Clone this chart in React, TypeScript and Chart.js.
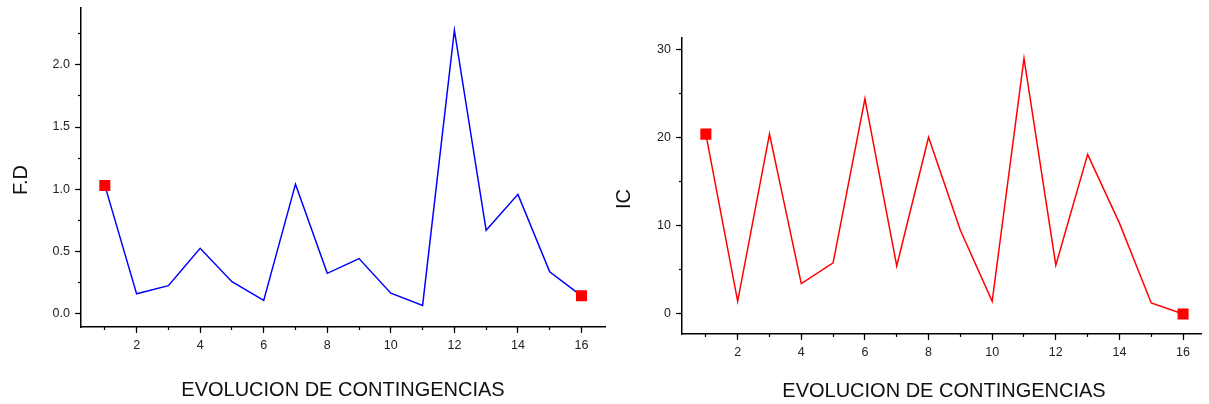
import React, { useEffect, useRef } from "react";
import { Chart, registerables } from "chart.js";

Chart.register(...registerables);

const contingencias = [1, 2, 3, 4, 5, 6, 7, 8, 9, 10, 11, 12, 13, 14, 15, 16];
const fdValues = [1.03, 0.157, 0.223, 0.524, 0.255, 0.104, 1.04, 0.322, 0.441, 0.162, 0.064, 2.28, 0.668, 0.958, 0.335, 0.141];
const icValues = [20.4, 1.44, 20.4, 3.45, 5.8, 24.4, 5.45, 20.05, 9.5, 1.44, 29.0, 5.53, 18.1, 10.3, 1.25, 0.0];
const xTitle = "EVOLUCION DE CONTINGENCIAS";
const fdTitle = "F.D";
const icTitle = "IC";

const FONT = "'Liberation Sans', Arial, sans-serif";

type Cfg = {
  values: number[];
  color: string;
  xMin: number;
  xMax: number;
  yMin: number;
  yMax: number;
  yStep: number;
  yMinorStep: number;
  yDecimals: number;
  yWidth: number;
  xHeight: number;
  padTop: number;
  padRight: number;
};

function buildChart(canvas: HTMLCanvasElement, c: Cfg) {
  const pts = contingencias.map((x, i) => ({ x, y: c.values[i] }));
  const last = pts.length - 1;
  const tickFont = { family: FONT, size: 12.5 };
  const noPad = (s: any) => {
    s.paddingTop = 0;
    s.paddingBottom = 0;
    s.paddingLeft = 0;
    s.paddingRight = 0;
  };
  return new Chart(canvas, {
    type: "line",
    data: {
      datasets: [
        {
          data: pts,
          borderColor: c.color,
          borderWidth: 1.5,
          tension: 0,
          pointStyle: "rect",
          pointRadius: (ctx: any) => (ctx.dataIndex === 0 || ctx.dataIndex === last ? 7.8 : 0),
          pointBackgroundColor: "#ff0000",
          pointBorderWidth: 0,
          xAxisID: "x",
          yAxisID: "y",
        },
      ],
    },
    options: {
      animation: false,
      responsive: false,
      maintainAspectRatio: false,
      events: [],
      layout: { padding: { top: c.padTop, right: c.padRight, left: 0, bottom: 0 } },
      plugins: { legend: { display: false }, tooltip: { enabled: false } },
      scales: {
        x: {
          type: "linear",
          position: "bottom",
          weight: 1,
          min: c.xMin,
          max: c.xMax,
          afterFit: (s: any) => {
            s.height = c.xHeight;
            noPad(s);
          },
          ticks: {
            stepSize: 2,
            includeBounds: false,
            color: "#222",
            font: tickFont,
            padding: 5,
            maxRotation: 0,
            autoSkip: false,
          },
          grid: { drawOnChartArea: false, drawTicks: true, tickLength: 6, tickColor: "#000", tickWidth: 1.2 },
          border: { display: true, color: "#000", width: 1.5 },
        },
        xMinor: {
          type: "linear",
          position: "bottom",
          weight: 0,
          min: c.xMin,
          max: c.xMax,
          afterFit: (s: any) => {
            s.height = 0;
            noPad(s);
          },
          ticks: { stepSize: 1, includeBounds: false, display: false, autoSkip: false },
          grid: { drawOnChartArea: false, drawTicks: true, tickLength: 3, tickColor: "#000", tickWidth: 1.2 },
          border: { display: false },
        },
        y: {
          type: "linear",
          position: "left",
          weight: 1,
          min: c.yMin,
          max: c.yMax,
          afterFit: (s: any) => {
            s.width = c.yWidth;
            noPad(s);
          },
          ticks: {
            stepSize: c.yStep,
            includeBounds: false,
            color: "#222",
            font: tickFont,
            padding: 5,
            callback: (v: any) => Number(v).toFixed(c.yDecimals),
          },
          grid: { drawOnChartArea: false, drawTicks: true, tickLength: 6, tickColor: "#000", tickWidth: 1.2 },
          border: { display: true, color: "#000", width: 1.5 },
        },
        yMinor: {
          type: "linear",
          position: "left",
          weight: 0,
          min: c.yMin,
          max: c.yMax,
          afterFit: (s: any) => {
            s.width = 0;
            noPad(s);
          },
          ticks: { stepSize: c.yMinorStep, includeBounds: false, display: false },
          grid: { drawOnChartArea: false, drawTicks: true, tickLength: 3, tickColor: "#000", tickWidth: 1.2 },
          border: { display: false },
        },
      },
    } as any,
  });
}

function ChartCanvas({ cfg, left, width }: { cfg: Cfg; left: number; width: number }) {
  const ref = useRef<HTMLCanvasElement | null>(null);
  useEffect(() => {
    if (!ref.current) return;
    const ch = buildChart(ref.current, cfg);
    return () => ch.destroy();
  }, []);
  return (
    <canvas
      ref={ref}
      width={width}
      height={404}
      style={{ position: "absolute", left, top: 0, width, height: 404 }}
    />
  );
}

const titleStyle: React.CSSProperties = {
  position: "absolute",
  fontFamily: FONT,
  fontSize: 20,
  lineHeight: 1,
  color: "#111",
  whiteSpace: "nowrap",
};

export default function App() {
  const leftCfg: Cfg = {
    values: fdValues,
    color: "#0000ff",
    xMin: 0.25,
    xMax: 16.74,
    yMin: -0.11,
    yMax: 2.46,
    yStep: 0.5,
    yMinorStep: 0.25,
    yDecimals: 1,
    yWidth: 81,
    xHeight: 77,
    padTop: 2,
    padRight: 10,
  };
  const rightCfg: Cfg = {
    values: icValues,
    color: "#ff0000",
    xMin: 0.25,
    xMax: 16.57,
    yMin: -2.27,
    yMax: 31.3,
    yStep: 10,
    yMinorStep: 5,
    yDecimals: 0,
    yWidth: 67,
    xHeight: 70,
    padTop: 38,
    padRight: 7,
  };
  return (
    <div style={{ position: "absolute", left: 0, top: 0, width: 1209, height: 404, background: "#fff", overflow: "hidden" }}>
      <ChartCanvas cfg={leftCfg} left={0} width={615} />
      <ChartCanvas cfg={rightCfg} left={615} width={594} />
      <div style={{ ...titleStyle, left: 20, top: 180, transform: "translate(-50%, -50%) rotate(-90deg)" }}>{fdTitle}</div>
      <div style={{ ...titleStyle, left: 623, top: 199, transform: "translate(-50%, -50%) rotate(-90deg)" }}>{icTitle}</div>
      <div style={{ ...titleStyle, left: 343, top: 389, transform: "translate(-50%, -50%)" }}>{xTitle}</div>
      <div style={{ ...titleStyle, left: 944, top: 390, transform: "translate(-50%, -50%)" }}>{xTitle}</div>
    </div>
  );
}
